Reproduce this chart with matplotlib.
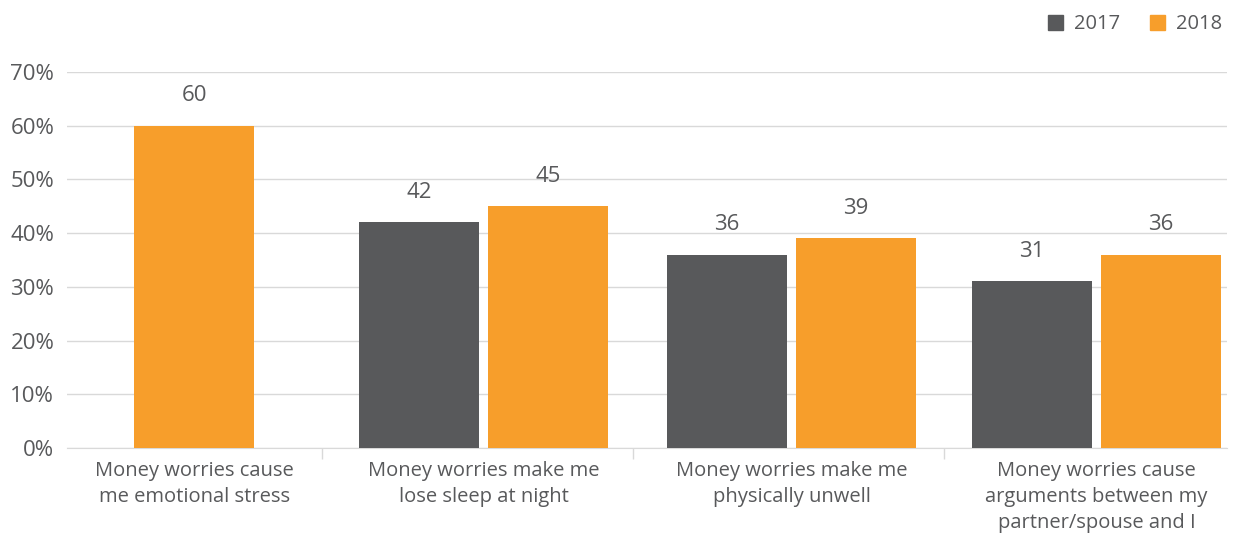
import matplotlib.pyplot as plt
from matplotlib.patches import Patch

categories = [
    "Money worries cause\nme emotional stress",
    "Money worries make me\nlose sleep at night",
    "Money worries make me\nphysically unwell",
    "Money worries cause\narguments between my\npartner/spouse and I",
]
vals_2017 = [None, 42, 36, 31]
vals_2018 = [60, 45, 39, 36]
yticks = [0, 10, 20, 30, 40, 50, 60, 70]

dark = "#58595b"
orange = "#f79e2b"
text_c = "#58595b"

plt.rcParams["font.family"] = ["Open Sans", "DejaVu Sans"]
plt.rcParams["font.weight"] = 500

# category slots (first one is narrower since it only holds one bar)
edges = [0, 0.82, 1.82, 2.82, 3.73]
centers = [0.41, 1.34, 2.33, 3.31]
w = 0.385
gap = 0.03

fig = plt.figure(figsize=(12.37, 5.33), dpi=100)
ax = fig.add_axes([0.054, 0.1595, 0.938, 0.7055])

for i, c in enumerate(centers):
    a, b = vals_2017[i], vals_2018[i]
    if a is None:
        pos = [(c, b, orange)]
    else:
        pos = [(c - w / 2 - gap / 2, a, dark), (c + w / 2 + gap / 2, b, orange)]
    for x, v, col in pos:
        ax.bar(x, v, width=w, color=col, zorder=3)
        ax.annotate(str(v), (x, v), xytext=(0, 14), textcoords="offset points",
                    ha="center", va="bottom", fontsize=16, color=text_c)

ax.set_xlim(edges[0], edges[-1])
ax.set_ylim(0, 70)
ax.set_yticks(yticks)
ax.set_yticklabels([f"{t}%" for t in yticks], fontsize=16, color=text_c)
ax.yaxis.grid(True, color="#d9d9d9", linewidth=1, zorder=0)
ax.tick_params(axis="y", length=0, pad=9)

ax.set_xticks(edges[1:-1])
ax.set_xticklabels([])
ax.tick_params(axis="x", length=8, color="#d9d9d9", width=1)
for c, lab in zip(centers, categories):
    ax.text(c, -2.4, lab, ha="center", va="top", fontsize=14.5,
            color=text_c, linespacing=1.42)

for s in ["top", "right", "left"]:
    ax.spines[s].set_visible(False)
ax.spines["bottom"].set_color("#d9d9d9")

handles = [Patch(color=dark, label="2017"), Patch(color=orange, label="2018")]
fig.legend(handles=handles, loc="upper right", bbox_to_anchor=(1.003, 1.007), ncol=2,
           frameon=False, fontsize=14.5, handlelength=0.75, handleheight=0.75,
           handletextpad=0.55, columnspacing=1.5, labelcolor=text_c)

fig.savefig("out.png", dpi=100)
